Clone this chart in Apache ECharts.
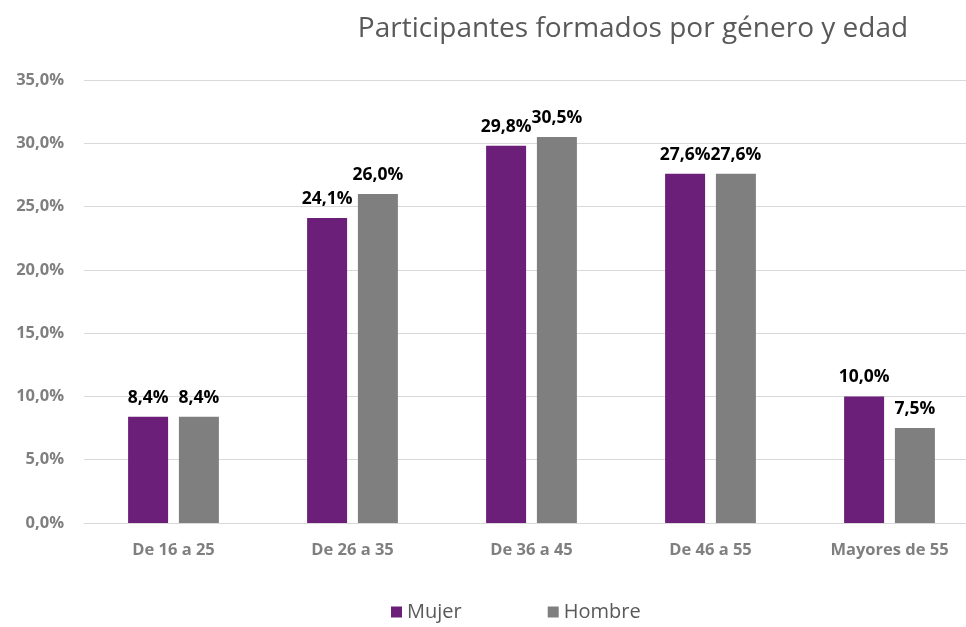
<!DOCTYPE html>
<html>
<head>
<meta charset="utf-8">
<script src="https://cdn.jsdelivr.net/npm/echarts@6/dist/echarts.min.js"></script>
<style>
  html, body { margin: 0; padding: 0; background: #fff; }
  #chart { width: 966px; height: 627px; }
</style>
</head>
<body>
<div id="chart"></div>
<script>
  // datos
  const categorias = ['De 16 a 25', 'De 26 a 35', 'De 36 a 45', 'De 46 a 55', 'Mayores de 55'];
  const mujer = [8.4, 24.1, 29.8, 27.6, 10.0];
  const hombre = [8.4, 26.0, 30.5, 27.6, 7.5];
  const ejeY = [0, 35, 5]; // min, max, intervalo

  const fmt = v => v.toFixed(1).replace('.', ',') + '%';
  const fuente = '"Open Sans", "Noto Sans", sans-serif';

  let chart = echarts.init(document.getElementById('chart'));
  chart.setOption({
    animation: false,
    title: {
      text: 'Participantes formados por género y edad',
      left: 628, top: 10, textAlign: 'center',
      textStyle: { fontFamily: fuente, fontSize: 28, fontWeight: 'normal', color: '#595959' }
    },
    legend: {
      bottom: 0, left: 386, itemGap: 86,
      itemWidth: 11, itemHeight: 11, icon: 'rect',
      textStyle: { fontFamily: fuente, fontSize: 20, color: '#595959' }
    },
    grid: { left: 84, width: 895, top: 80, bottom: 104, outerBoundsMode: 'none', containLabel: false },
    xAxis: {
      type: 'category',
      data: categorias,
      axisLine: { lineStyle: { color: '#D9D9D9' } },
      axisTick: { show: false },
      axisLabel: { fontFamily: fuente, fontSize: 16.5, fontWeight: 'bold', color: '#7F7F7F', margin: 19 }
    },
    yAxis: {
      type: 'value',
      min: ejeY[0], max: ejeY[1], interval: ejeY[2],
      axisLine: { show: false },
      axisTick: { show: false },
      splitLine: { lineStyle: { color: '#D9D9D9' } },
      axisLabel: { fontFamily: fuente, fontSize: 16.5, fontWeight: 'bold', color: '#7F7F7F', formatter: fmt, margin: 20 }
    },
    series: [
      {
        name: 'Mujer', type: 'bar', data: mujer,
        barWidth: 40, barGap: '27%',
        itemStyle: { color: '#6B1F78' },
        label: { show: true, position: 'top', formatter: p => fmt(p.value), fontFamily: fuente, fontSize: 17.5, fontWeight: 'bold', color: '#000', distance: 10 }
      },
      {
        name: 'Hombre', type: 'bar', data: hombre,
        barWidth: 40,
        itemStyle: { color: '#7F7F7F' },
        label: { show: true, position: 'top', formatter: p => fmt(p.value), fontFamily: fuente, fontSize: 17.5, fontWeight: 'bold', color: '#000', distance: 10 }
      }
    ]
  });
</script>
</body>
</html>
